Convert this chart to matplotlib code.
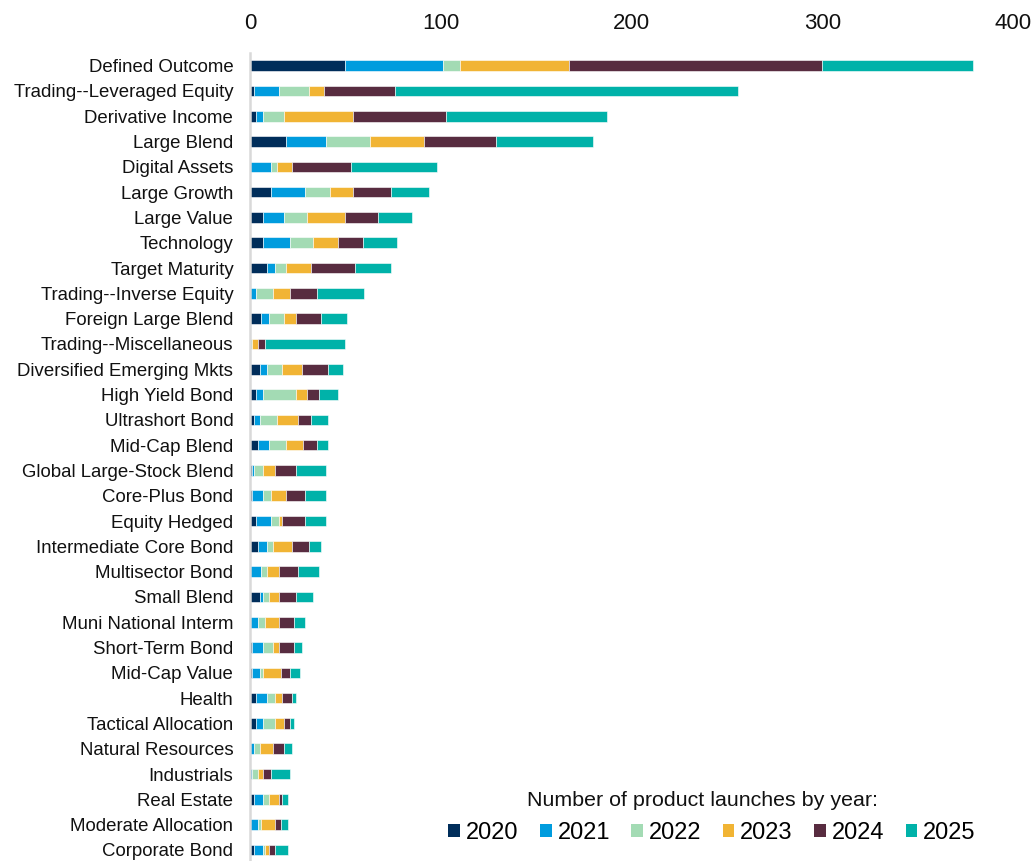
import matplotlib
matplotlib.use("Agg")
import matplotlib.pyplot as plt
from matplotlib.patches import Patch
import numpy as np

plt.rcParams['font.family'] = ['Liberation Sans', 'DejaVu Sans']

categories = [
    "Defined Outcome", "Trading--Leveraged Equity", "Derivative Income", "Large Blend",
    "Digital Assets", "Large Growth", "Large Value", "Technology", "Target Maturity",
    "Trading--Inverse Equity", "Foreign Large Blend", "Trading--Miscellaneous",
    "Diversified Emerging Mkts", "High Yield Bond", "Ultrashort Bond", "Mid-Cap Blend",
    "Global Large-Stock Blend", "Core-Plus Bond", "Equity Hedged", "Intermediate Core Bond",
    "Multisector Bond", "Small Blend", "Muni National Interm", "Short-Term Bond",
    "Mid-Cap Value", "Health", "Tactical Allocation", "Natural Resources", "Industrials",
    "Real Estate", "Moderate Allocation", "Corporate Bond",
]

years = ["2020", "2021", "2022", "2023", "2024", "2025"]

launches_2020 = [50, 2, 3, 19, 0, 11, 7, 7, 9, 0, 6, 0, 5, 3, 2, 4, 1, 1, 3, 4, 0, 5, 0, 1, 1, 3, 3, 0, 0, 2, 0, 2]
launches_2021 = [51, 13, 4, 21, 11, 18, 11, 14, 4, 3, 4, 0, 4, 4, 3, 6, 1, 6, 8, 5, 6, 2, 4, 6, 4, 6, 4, 2, 1, 5, 4, 5]
launches_2022 = [9, 16, 11, 23, 3, 13, 12, 12, 6, 9, 8, 1, 8, 17, 9, 9, 5, 4, 4, 3, 3, 3, 4, 5, 2, 4, 6, 3, 3, 3, 2, 1]
launches_2023 = [57, 8, 36, 28, 8, 12, 20, 13, 13, 9, 6, 3, 10, 6, 11, 9, 6, 8, 2, 10, 6, 5, 7, 3, 9, 4, 5, 7, 3, 5, 7, 2]
launches_2024 = [133, 37, 49, 38, 31, 20, 17, 13, 23, 14, 13, 4, 14, 6, 7, 7, 11, 10, 12, 9, 10, 9, 8, 8, 5, 5, 3, 6, 4, 2, 3, 3]
launches_2025 = [79, 180, 84, 51, 45, 20, 18, 18, 19, 25, 14, 42, 8, 10, 9, 6, 16, 11, 11, 6, 11, 9, 6, 4, 5, 2, 2, 4, 10, 3, 4, 7]

series = [launches_2020, launches_2021, launches_2022, launches_2023, launches_2024, launches_2025]
colors = ["#002D5A", "#009CDE", "#A3DBB4", "#F1B434", "#582C40", "#00B2A9"]

W, H = 1035, 861
fig = plt.figure(figsize=(W / 100, H / 100), dpi=100)
ax_top, ax_bottom = 53.0, 862.6
ax = fig.add_axes([250 / W, (H - ax_bottom) / H, 763 / W, (ax_bottom - ax_top) / H])

y = np.arange(len(categories))
left = np.zeros(len(categories))
for vals, col, yr in zip(series, colors, years):
    vals = np.array(vals, dtype=float)
    ax.barh(y, vals, left=left, height=0.42, color=col, edgecolor="white",
            linewidth=0.4, label=yr)
    left += vals

ax.set_ylim(len(categories) - 0.5, -0.5)
ax.set_xlim(0, 400)
ax.set_xticks([0, 100, 200, 300, 400])
ax.xaxis.tick_top()
ax.tick_params(axis="x", length=0, pad=14, labelsize=16, colors="#111111")
ax.set_yticks(y)
ax.set_yticklabels(categories)
ax.tick_params(axis="y", length=0, pad=12, labelsize=13.4, colors="#111111")

for side in ["top", "right", "bottom"]:
    ax.spines[side].set_visible(False)
ax.spines["left"].set_color("#d9d9d9")
ax.spines["left"].set_linewidth(1.8)

fig.text(702 / W, 1 - 800 / H, "Number of product launches by year:",
         ha="center", va="center", fontsize=15.4, color="#111111")

handles = [Patch(facecolor=c, edgecolor="none", label=yr) for c, yr in zip(colors, years)]
fig.legend(handles=handles, ncol=6, loc="center",
           bbox_to_anchor=(712 / W, 1 - 833 / H), frameon=False,
           fontsize=17, handlelength=0.5, handleheight=0.5,
           handletextpad=0.25, columnspacing=0.9, borderpad=0)

fig.savefig("out.png", dpi=100)
